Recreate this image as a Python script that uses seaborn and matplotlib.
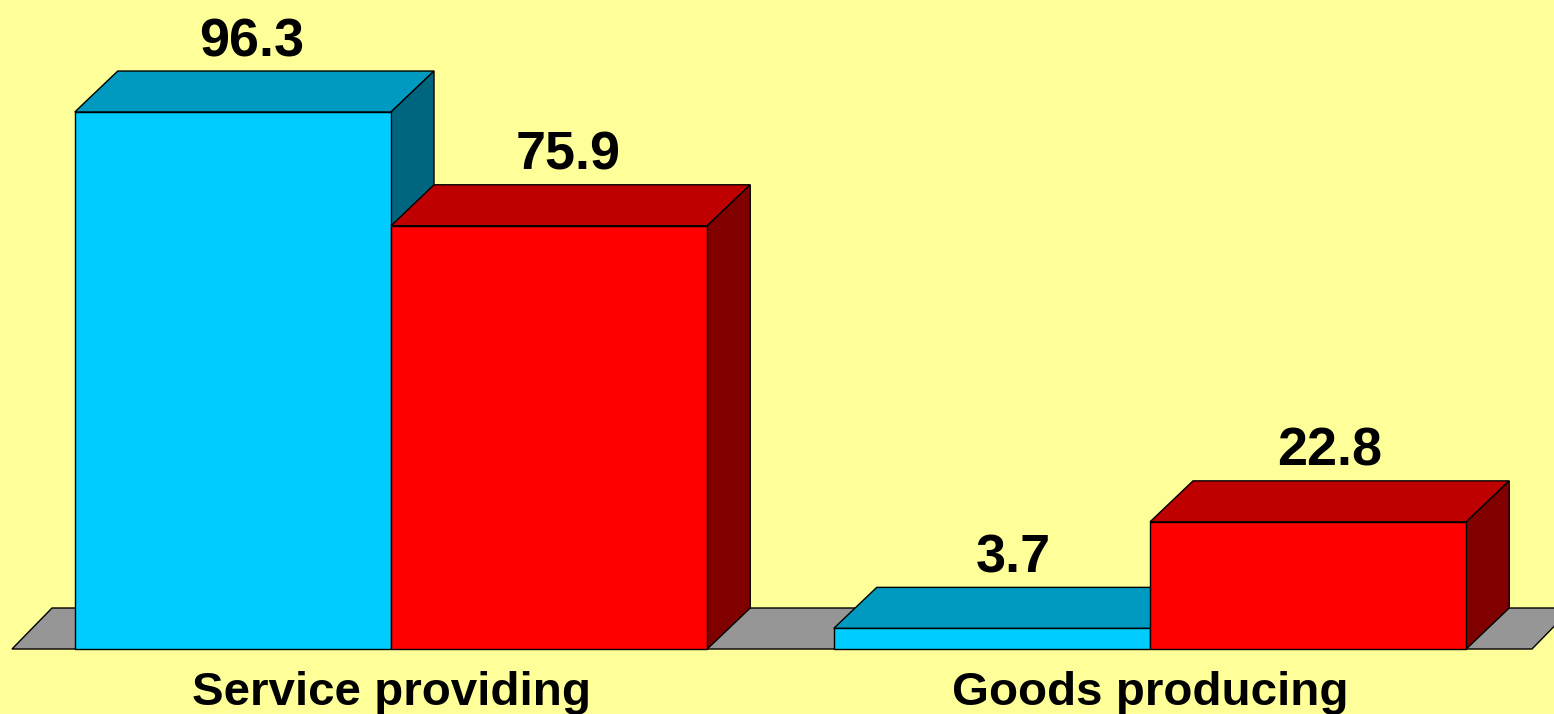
import matplotlib
matplotlib.use("Agg")
import matplotlib.pyplot as plt
from matplotlib.patches import Polygon
import pandas as pd
import seaborn as sns

# Valeurs
categories = ["Service providing", "Goods producing"]
series_names = ["A", "B"]
values_a = [96.3, 3.7]
values_b = [75.9, 22.8]

BG = "#FFFF99"
FRONT = {"A": "#00CCFF", "B": "#FF0000"}
TOP = {"A": "#0099BF", "B": "#BF0000"}
SIDE = {"A": "#006680", "B": "#800000"}
FLOOR = "#969696"
LW = 1.0

# Echelle en pixels de l'image d'origine
W, H = 1554, 714
BASE_Y = 649
PX_PER_UNIT = 5.576
PX_PER_CAT = 759
CAT0_X = 391
DEPTH_X = 43 / PX_PER_CAT
DEPTH_Y = 41 / PX_PER_UNIT
FLOOR_DX = 40 / PX_PER_CAT
LABEL_NUDGE = [-2.5 / PX_PER_CAT, 0]


def add_depth(ax, bar, color_top, color_side, z):
    # Faces du dessus et de côté pour le faux effet 3D
    x0, x1 = bar.get_x(), bar.get_x() + bar.get_width()
    h = bar.get_height()
    top = [(x0, h), (x1, h), (x1 + DEPTH_X, h + DEPTH_Y), (x0 + DEPTH_X, h + DEPTH_Y)]
    side = [(x1, 0), (x1, h), (x1 + DEPTH_X, h + DEPTH_Y), (x1 + DEPTH_X, DEPTH_Y)]
    ax.add_patch(Polygon(top, closed=True, fc=color_top, ec="black", lw=LW, zorder=z))
    ax.add_patch(Polygon(side, closed=True, fc=color_side, ec="black", lw=LW, zorder=z))


def main():
    df = pd.DataFrame({
        "category": categories * 2,
        "series": [series_names[0]] * 2 + [series_names[1]] * 2,
        "value": values_a + values_b,
    })

    fig = plt.figure(figsize=(W / 100, H / 100), dpi=100, facecolor=BG)
    ax = fig.add_axes([0, 0, 1, 1])
    ax.set_facecolor(BG)

    sns.barplot(data=df, x="category", y="value", hue="series", hue_order=series_names,
                order=categories, palette=FRONT, width=0.8333, gap=0, legend=False,
                edgecolor="black", linewidth=LW, saturation=1, ax=ax)

    ax.set_xlim(-CAT0_X / PX_PER_CAT, (W - CAT0_X) / PX_PER_CAT)
    ax.set_ylim((BASE_Y - H) / PX_PER_UNIT, BASE_Y / PX_PER_UNIT)

    # Plancher gris derrière les barres
    x_left = (12 - CAT0_X) / PX_PER_CAT
    x_right = (1532 - CAT0_X) / PX_PER_CAT
    fl = [(x_left, 0), (x_right, 0), (x_right + FLOOR_DX, DEPTH_Y), (x_left + FLOOR_DX, DEPTH_Y)]
    ax.add_patch(Polygon(fl, closed=True, fc=FLOOR, ec="black", lw=LW, zorder=1))

    # Chaque série passe devant la précédente
    for s, (cont, name) in enumerate(zip(ax.containers, series_names)):
        for i, bar in enumerate(cont):
            add_depth(ax, bar, TOP[name], SIDE[name], 2 + 2 * s)
            bar.set_zorder(3 + 2 * s)
            ax.text(bar.get_x() + bar.get_width() / 2 + DEPTH_X / 2 + LABEL_NUDGE[i],
                    bar.get_height() + DEPTH_Y + 0.7, f"{bar.get_height():.1f}",
                    ha="center", va="bottom", fontsize=38.8, fontweight="bold",
                    family="Liberation Sans", color="black", zorder=8)

    ax.set_xlabel("")
    ax.set_ylabel("")
    ax.set_yticks([])
    ax.tick_params(axis="x", length=0, pad=0)
    ax.set_xticks(range(len(categories)))
    ax.set_xticklabels([])
    for i, cat in enumerate(categories):
        ax.text(i, (BASE_Y - 693) / PX_PER_UNIT, cat, ha="center", va="center",
                fontsize=34.2, fontweight="bold", family="Liberation Sans", color="black")
    sns.despine(ax=ax, left=True, bottom=True)

    fig.savefig("out.png", dpi=100, facecolor=BG)


if __name__ == "__main__":
    main()
